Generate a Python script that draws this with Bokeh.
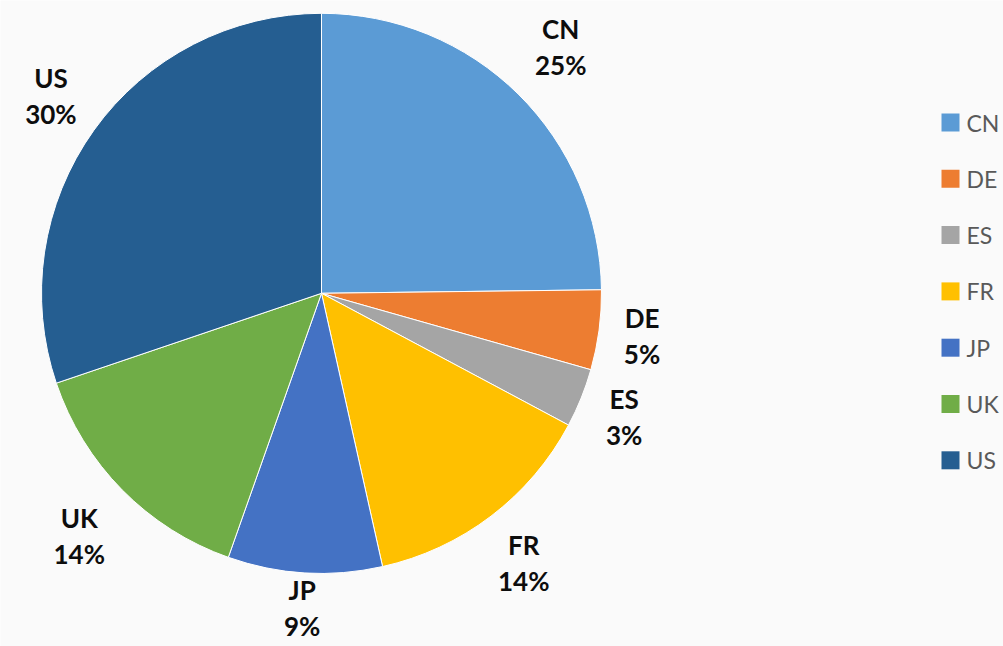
import math
from bokeh.plotting import figure
from bokeh.models import Range1d, ColumnDataSource
from bokeh.core.properties import value
from bokeh.embed import file_html
from bokeh.resources import INLINE

countries = ["CN", "DE", "ES", "FR", "JP", "UK", "US"]
shares = [24.8, 4.6, 3.4, 13.7, 8.9, 14.4, 30.2]
colors = ["#5B9BD5", "#ED7D31", "#A5A5A5", "#FFC000", "#4472C4", "#70AD47", "#255E91"]

W, H = 1003, 646
BG = "#fafafa"

def px(x):  # picture x -> data x
    return x

def py(y):  # picture y -> data y
    return H - y

p = figure(width=W, height=H, output_backend="svg", toolbar_location=None,
           x_range=Range1d(0, W), y_range=Range1d(0, H), min_border=0)
p.axis.visible = False
p.grid.visible = False
p.outline_line_color = None
p.background_fill_color = BG
p.border_fill_color = BG

cx, cy, R = px(321), py(292.8), 280
total = sum(shares)
starts, ends, mids = [], [], []
acc = 0.0
for s in shares:
    a0 = acc / total * 2 * math.pi
    acc += s
    a1 = acc / total * 2 * math.pi
    starts.append(math.pi / 2 - a0)
    ends.append(math.pi / 2 - a1)
    mids.append((a0 + a1) / 2)

src = ColumnDataSource(dict(start=starts, end=ends, color=colors))
p.wedge(x=cx, y=cy, radius=R, radius_units="screen", start_angle="start", end_angle="end",
        direction="clock", fill_color="color", line_color="white", line_width=1, source=src)

# data labels (outside end): label box centred on a square around the edge point,
# kept inside the chart area
lx, ly, names, pcts = [], [], [], []
kx, ky = 43, 47
for c, s, m in zip(countries, shares, mids):
    ux, uy = math.sin(m), math.cos(m)  # uy positive = up
    mx = max(abs(ux), abs(uy))
    lx.append(cx + R * ux + kx * ux / mx)
    ly.append(min(max(cy + R * uy + ky * uy / mx, 39), H - 39))
    names.append(c)
    pcts.append(f"{round(s):d}%")

p.text(x=lx, y=[y + 18 for y in ly], text=names, text_align="center", text_baseline="middle",
       text_font=value("Lato"), text_font_style="bold", text_font_size="26px", text_color="#0d0d0d")
p.text(x=lx, y=[y - 18 for y in ly], text=pcts, text_align="center", text_baseline="middle",
       text_font=value("Lato"), text_font_style="bold", text_font_size="26px", text_color="#0d0d0d")

# legend
leg_x = px(950)
leg_y = [py(122 + 56.3 * i) for i in range(len(countries))]
p.rect(x=[leg_x] * len(countries), y=leg_y, width=18, height=18, width_units="screen",
       height_units="screen", fill_color=colors, line_color=None)
p.text(x=[leg_x + 16] * len(countries), y=leg_y, text=countries, text_align="left",
       text_baseline="middle", text_font=value("Lato"), text_font_size="23px", text_color="#595959")

open("out.html", "w").write(file_html(p, INLINE))
